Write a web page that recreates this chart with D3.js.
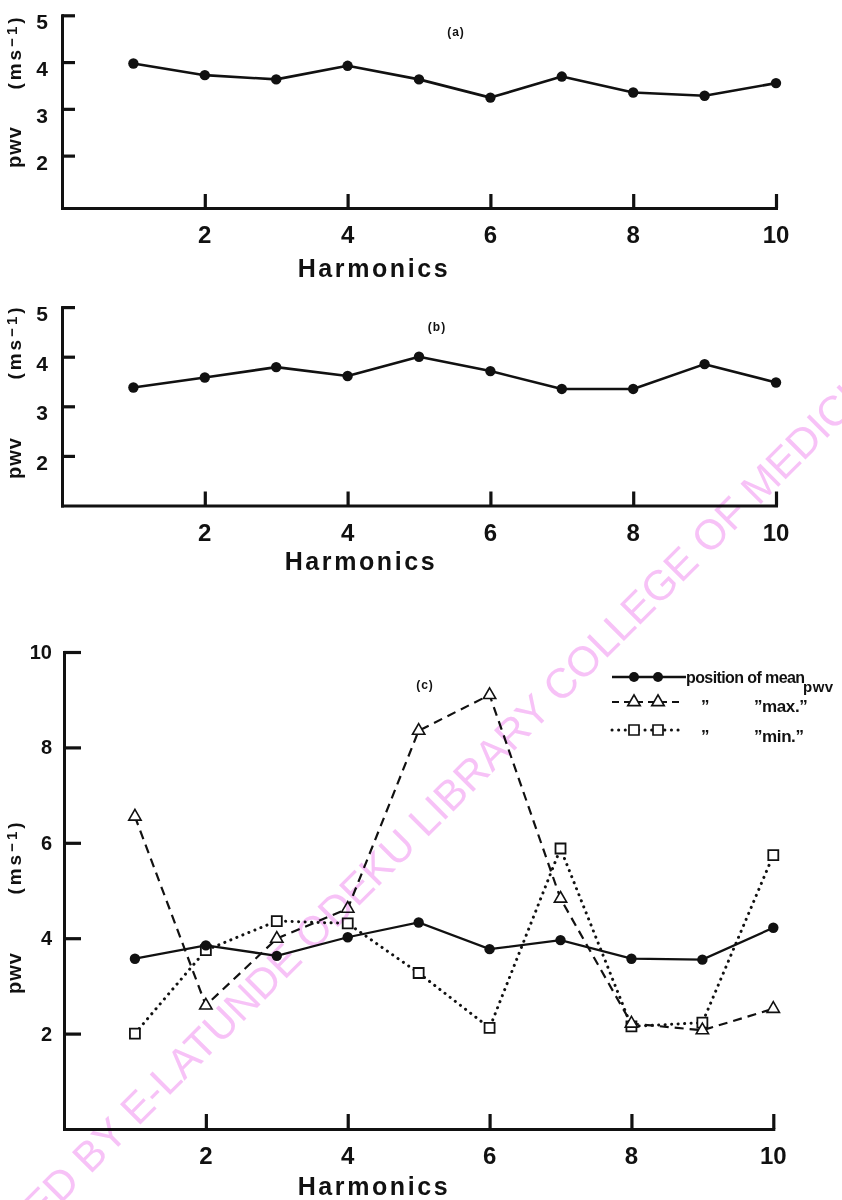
<!DOCTYPE html>
<html>
<head>
<meta charset="utf-8">
<script src="https://cdn.jsdelivr.net/npm/d3@7"></script>
<style>
  body { margin: 0; background: #fff; }
  svg { display: block; }
</style>
</head>
<body>
<script>
// Harmonic number on the x axis
const harmonics = [1, 2, 3, 4, 5, 6, 7, 8, 9, 10];
const xTickValues = [2, 4, 6, 8, 10];

// (a) and (b): pulse wave velocity per harmonic (m s^-1)
const pwvA = [3.97, 3.72, 3.63, 3.92, 3.63, 3.24, 3.69, 3.35, 3.28, 3.55];
const pwvB = [3.38, 3.58, 3.79, 3.61, 4.00, 3.71, 3.35, 3.35, 3.85, 3.48];
const yTickValuesAB = [2, 3, 4, 5];

// (c): position of mean, max. and min. pwv
const pwvMean = [3.57, 3.85, 3.63, 4.02, 4.33, 3.77, 3.96, 3.57, 3.55, 4.22];
const pwvMax  = [6.55, 2.59, 3.99, 4.62, 8.35, 9.10, 4.83, 2.21, 2.07, 2.52];
const pwvMin  = [2.00, 3.75, 4.36, 4.31, 3.27, 2.12, 5.88, 2.15, 2.23, 5.74];
const yTickValuesC = [2, 4, 6, 8, 10];

const panelTags = ["(a)", "(b)", "(c)"];
const xTitle = "Harmonics";
const yTitleMain = "pwv";
const yTitleUnit = "(ms";
const yTitleExp = "\u22121";
const legendMain = "position of mean";
const legendSub = "pwv";
const legendMax = "max.";
const legendMin = "min.";
const ditto = "\u201D";
const watermarkHead = "DIGITIZED BY";
const watermarkTail = "E-LATUNDE ODEKU LIBRARY COLLEGE OF MEDICINE";

const FONT = "'Liberation Sans', Arial, Helvetica, sans-serif";
const INK = "#111";

const svg = d3.select("body").append("svg")
  .attr("width", 842).attr("height", 1200)
  .style("font-family", FONT);

function axes(g, x, y, yTicks, xTickLen, yTickLen, yLabelDx, yLabelDy, yLabelSize) {
  const bottom = y.range()[0];
  const left = x.range()[0];
  const gx = g.append("g").attr("transform", `translate(0,${bottom})`)
    .call(d3.axisBottom(x).tickValues(xTickValues).tickSize(-xTickLen).tickSizeOuter(0).tickFormat(""));
  const gy = g.append("g").attr("transform", `translate(${left},0)`)
    .call(d3.axisLeft(y).tickValues(yTicks).tickSize(-yTickLen).tickSizeOuter(0).tickFormat(""));
  [gx, gy].forEach(a => {
    a.select(".domain").attr("stroke", INK).attr("stroke-width", 3).attr("stroke-linecap", "square");
    a.selectAll(".tick line").attr("stroke", INK).attr("stroke-width", 3.2);
  });

  g.selectAll(".xlab").data(xTickValues).join("text")
    .attr("x", d => x(d)).attr("y", bottom + 35)
    .attr("text-anchor", "middle").attr("font-size", 24).attr("font-weight", "bold")
    .attr("fill", INK).text(d => d);

  g.selectAll(".ylab").data(yTicks).join("text")
    .attr("x", left - yLabelDx).attr("y", d => y(d) + yLabelDy)
    .attr("text-anchor", "end").attr("font-size", yLabelSize).attr("font-weight", "bold")
    .attr("fill", INK).text(d => d);
}

function axisTitles(g, xCenter, xBaseline, pwvCenter, unitCenter) {
  g.append("text")
    .attr("x", xCenter).attr("y", xBaseline)
    .attr("text-anchor", "middle").attr("font-size", 25).attr("font-weight", "bold")
    .attr("letter-spacing", 2.6).attr("fill", INK).text(xTitle);

  g.append("text")
    .attr("transform", `translate(21,${pwvCenter}) rotate(-90)`)
    .attr("text-anchor", "middle").attr("font-size", 20).attr("font-weight", "bold")
    .attr("letter-spacing", 1).attr("fill", INK).text(yTitleMain);

  const u = g.append("text")
    .attr("transform", `translate(21,${unitCenter}) rotate(-90)`)
    .attr("text-anchor", "middle").attr("font-size", 19).attr("font-weight", "bold")
    .attr("letter-spacing", 3).attr("fill", INK);
  u.append("tspan").text(yTitleUnit);
  u.append("tspan").attr("font-size", 15).attr("dy", -4).text(yTitleExp);
  u.append("tspan").attr("dy", 4).text(")");
}

function tag(g, text, cx, baseline) {
  g.append("text").attr("x", cx).attr("y", baseline)
    .attr("text-anchor", "middle").attr("font-size", 12).attr("font-weight", "bold")
    .attr("letter-spacing", 1).attr("fill", INK).text(text);
}

// ---------- panels (a) and (b): single series ----------
function simplePanel(values, yRange, tagText, tagPos, titlePos) {
  const g = svg.append("g");
  const x = d3.scaleLinear().domain([0, 10]).range([62, 776]);
  const y = d3.scaleLinear().domain([yRange.lo, 5]).range([yRange.bottom, yRange.top]);
  axes(g, x, y, yTickValuesAB, 14, 13, 14, 14, 21);

  const line = d3.line().x((d, i) => x(harmonics[i])).y(d => y(d));
  g.append("path").datum(values)
    .attr("d", line).attr("fill", "none").attr("stroke", INK)
    .attr("stroke-width", 2.6).attr("stroke-linejoin", "round");
  g.selectAll(".pt").data(values).join("circle")
    .attr("cx", (d, i) => x(harmonics[i])).attr("cy", d => y(d))
    .attr("r", 5.2).attr("fill", INK);

  tag(g, tagText, tagPos[0], tagPos[1]);
  axisTitles(g, titlePos.xc, titlePos.xb, titlePos.pwv, titlePos.unit);
}

simplePanel(pwvA, { lo: 0.88, bottom: 208, top: 15.3 }, panelTags[0], [456, 36],
  { xc: 374, xb: 277, pwv: 147, unit: 52 });
simplePanel(pwvB, { lo: 1, bottom: 505.5, top: 307.1 }, panelTags[1], [437, 331],
  { xc: 361, xb: 570, pwv: 458, unit: 342 });

// ---------- panel (c): mean, max and min ----------
{
  const g = svg.append("g");
  const x = d3.scaleLinear().domain([0, 10]).range([64, 773.3]);
  const y = d3.scaleLinear().domain([0, 10]).range([1129, 652]);
  axes(g, x, y, yTickValuesC, 15, 17, 12, 7, 20);

  const line = d3.line().x((d, i) => x(harmonics[i])).y(d => y(d));

  g.append("path").datum(pwvMin).attr("d", line)
    .attr("fill", "none").attr("stroke", INK).attr("stroke-width", 3)
    .attr("stroke-linecap", "round").attr("stroke-dasharray", "0.1,6.4");
  g.append("path").datum(pwvMax).attr("d", line)
    .attr("fill", "none").attr("stroke", INK).attr("stroke-width", 2.2)
    .attr("stroke-dasharray", "9,6");
  g.append("path").datum(pwvMean).attr("d", line)
    .attr("fill", "none").attr("stroke", INK).attr("stroke-width", 2.3);

  const tri = d3.symbol(d3.symbolTriangle, 66);
  const sq = d3.symbol(d3.symbolSquare, 100);

  g.selectAll(".sq").data(pwvMin).join("path")
    .attr("transform", (d, i) => `translate(${x(harmonics[i])},${y(d)})`)
    .attr("d", sq).attr("fill", "#fff").attr("stroke", INK).attr("stroke-width", 1.8);
  g.selectAll(".tri").data(pwvMax).join("path")
    .attr("transform", (d, i) => `translate(${x(harmonics[i])},${y(d)})`)
    .attr("d", tri).attr("fill", "#fff").attr("stroke", INK).attr("stroke-width", 1.6);
  g.selectAll(".dot").data(pwvMean).join("circle")
    .attr("cx", (d, i) => x(harmonics[i])).attr("cy", d => y(d))
    .attr("r", 5.2).attr("fill", INK);

  tag(g, panelTags[2], 425, 689);
  axisTitles(g, 374, 1195, 973, 857);

  // legend
  const lg = g.append("g");
  const rows = [
    { y: 677, dash: null, width: 2.4, x2: 686, mark: "dot" },
    { y: 702, dash: "7,5", width: 2, x2: 682, mark: "tri" },
    { y: 730, dash: "0.1,6.5", width: 3, x2: 684, mark: "sq" }
  ];
  rows.forEach(r => {
    lg.append("line").attr("x1", 612).attr("x2", r.x2).attr("y1", r.y).attr("y2", r.y)
      .attr("stroke", INK).attr("stroke-width", r.width)
      .attr("stroke-linecap", r.mark === "sq" ? "round" : "butt")
      .attr("stroke-dasharray", r.dash);
    [634, 658].forEach(cx => {
      if (r.mark === "dot") {
        lg.append("circle").attr("cx", cx).attr("cy", r.y).attr("r", 5).attr("fill", INK);
      } else {
        lg.append("path").attr("transform", `translate(${cx},${r.y})`)
          .attr("d", r.mark === "tri" ? tri : sq)
          .attr("fill", "#fff").attr("stroke", INK).attr("stroke-width", 1.7);
      }
    });
  });
  lg.append("text").attr("x", 686).attr("y", 683)
    .attr("font-size", 16).attr("font-weight", "bold").attr("letter-spacing", -0.6)
    .attr("fill", INK).text(legendMain);
  lg.append("text").attr("x", 803).attr("y", 692)
    .attr("font-size", 15).attr("font-weight", "bold").attr("letter-spacing", 0.5)
    .attr("fill", INK).text(legendSub);
  [[712, legendMax], [742, legendMin]].forEach(([yb, word]) => {
    lg.append("text").attr("x", 701).attr("y", yb)
      .attr("font-size", 17).attr("font-weight", "bold").attr("fill", INK).text(ditto);
    lg.append("text").attr("x", 754).attr("y", yb)
      .attr("font-size", 17).attr("font-weight", "bold").attr("letter-spacing", -0.4)
      .attr("fill", INK).text(ditto + word + ditto);
  });
}

// ---------- library stamp across the page ----------
{
  const wm = svg.append("g")
    .attr("transform", "translate(138,1127) rotate(-45)")
    .style("mix-blend-mode", "multiply");
  wm.append("text").attr("x", 0).attr("y", 0)
    .attr("font-size", 42).attr("fill", "#f7c2f7")
    .text(watermarkTail);
  wm.append("text").attr("x", -12).attr("y", 0).attr("text-anchor", "end")
    .attr("font-size", 42).attr("fill", "#f7c2f7")
    .text(watermarkHead);
}
</script>
</body>
</html>
